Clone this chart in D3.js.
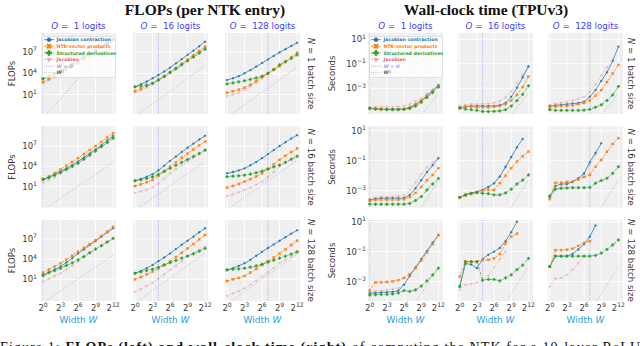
<!DOCTYPE html>
<html>
<head>
<meta charset="utf-8">
<script src="https://cdn.jsdelivr.net/npm/d3@7"></script>
<style>
body { margin: 0; background: #fff; }
svg { display: block; }
</style>
</head>
<body>
<script>
// ---- data (log10 of the measured value, panels row-major: N = 1, 16, 128 by O = 1, 16, 128) ----
var widths = [1, 2, 4, 8, 16, 32, 64, 128, 256, 512, 1024, 2048, 4096];
var batchSizes = [1, 16, 128];
var logitCounts = [1, 16, 128];
var xTicks = [1, 8, 64, 512, 4096];
var flopsTicks = [1e1, 1e4, 1e7];
var timeTicks = [1e-3, 1e-1, 1e1];

var flopsContraction = [
	[3.2,3.55,3.95,4.4,4.85,5.3,5.8,6.3,6.8,7.3,7.8,8.3,8.8],
	[2.1,2.45,2.85,3.3,3.75,4.25,4.8,5.4,6.0,6.6,7.2,7.8,8.45],
	[3.05,3.3,3.6,4.0,4.45,4.95,5.45,5.95,6.45,6.95,7.4,7.85,8.3],
	[2.0,2.35,2.8,3.25,3.7,4.2,4.7,5.3,5.9,6.5,7.1,7.8,8.5],
	[1.87,2.15,2.45,2.85,3.4,4.1,4.8,5.45,6.1,6.75,7.35,7.95,8.5],
	[2.97,3.15,3.4,3.7,4.15,4.65,5.2,5.8,6.4,7.0,7.55,8.1,8.6],
	[1.5,2.0,2.45,2.9,3.5,4.15,4.85,5.45,6.1,6.7,7.35,8.0,8.6],
	[1.9,2.25,2.65,3.13,3.7,4.25,4.85,5.5,6.15,6.75,7.35,8.0,8.6],
	[2.4,2.65,3.0,3.38,3.9,4.5,5.1,5.65,6.2,6.75,7.25,7.8,8.3]
];
var flopsNtkVp = [
	[2.8,3.2,3.6,4.05,4.5,5.0,5.5,6.0,6.5,7.05,7.6,8.15,8.7],
	[1.5,1.8,2.2,2.6,3.1,3.6,4.2,4.75,5.35,5.95,6.55,7.15,7.75],
	[1.27,1.45,1.7,2.0,2.4,2.9,3.45,4.0,4.5,5.0,5.6,6.25,6.9],
	[2.08,2.5,3.0,3.55,4.1,4.65,5.2,5.8,6.4,7.0,7.6,8.25,8.9],
	[1.1,1.35,1.65,2.0,2.6,3.3,3.95,4.6,5.25,5.9,6.5,7.1,7.65],
	[0.85,1.1,1.4,1.75,2.1,2.5,2.97,3.6,4.3,4.95,5.55,6.1,6.65],
	[1.98,2.45,2.9,3.38,3.95,4.5,5.1,5.7,6.25,6.85,7.45,8.1,8.8],
	[1.0,1.35,1.75,2.13,2.6,3.1,3.65,4.3,4.95,5.6,6.25,6.95,7.6],
	[0.75,1.0,1.2,1.5,2.0,2.55,3.13,3.7,4.25,4.85,5.45,6.1,6.75]
];
var flopsStructured = [
	[3.3,3.6,3.95,4.35,4.8,5.25,5.7,6.2,6.7,7.2,7.7,8.2,8.7],
	[2.1,2.2,2.35,2.6,3.05,3.55,4.1,4.65,5.2,5.75,6.3,6.85,7.4],
	[2.5,2.65,2.8,2.95,3.15,3.35,3.6,4.0,4.55,5.2,5.65,6.1,6.6],
	[2.1,2.35,2.7,3.1,3.55,4.0,4.45,5.05,5.65,6.25,6.9,7.5,8.15],
	[1.87,2.0,2.2,2.45,2.8,3.25,3.7,4.15,4.6,5.0,5.45,5.9,6.4],
	[2.47,2.55,2.6,2.7,2.85,3.05,3.3,3.6,3.9,4.2,4.6,5.05,5.5],
	[1.65,2.0,2.3,2.65,3.05,3.45,3.9,4.4,4.95,5.5,6.0,6.55,7.1],
	[1.9,2.1,2.3,2.5,2.8,3.15,3.47,3.8,4.15,4.47,4.8,5.2,5.6],
	[2.4,2.5,2.55,2.65,2.8,3.0,3.25,3.55,3.85,4.15,4.45,4.75,5.1]
];
var flopsJacobian = [
	[2.6,3.0,3.45,3.9,4.4,4.9,5.4,5.9,6.45,7.0,7.55,8.1,8.65],
	[1.3,1.6,2.0,2.45,2.95,3.5,4.05,4.6,5.2,5.8,6.4,7.0,7.6],
	[0.8,1.0,1.3,1.7,2.15,2.7,3.3,3.9,4.45,5.0,5.6,6.2,6.8],
	[1.6,1.95,2.4,2.9,3.4,3.9,4.45,5.05,5.65,6.25,6.9,7.5,8.15],
	[0.1,0.3,0.55,0.9,1.45,2.2,2.95,3.6,4.15,4.7,5.25,5.8,6.3],
	[-0.4,-0.15,0.15,0.5,0.85,1.3,1.75,2.4,3.15,3.95,4.5,4.95,5.4],
	[0.65,1.05,1.5,1.9,2.45,3.0,3.6,4.25,4.9,5.5,6.05,6.6,7.1],
	[-0.85,-0.45,0.0,0.5,1.1,1.75,2.4,3.05,3.7,4.37,4.85,5.35,5.85],
	[-1.5,-1.1,-0.75,-0.35,0.2,0.8,1.4,2.05,2.7,3.4,3.9,4.4,4.85]
];
// W^2 reference line: value at W = 1 and at W = 4096
var flopsWSquared = [
	[-2.4,8.8], [-2.1,5.1], [-2.2,4.85],
	[-2.4,4.55], [-2.5,4.75], [-2.4,4.9],
	[-2.5,4.6], [-2.55,4.9], [-2.7,4.7]
];

var timeContraction = [
	[-4.62,-4.66,-4.7,-4.7,-4.7,-4.7,-4.68,-4.55,-4.3,-4.0,-3.6,-3.2,-2.75],
	[-4.6,-4.5,-4.45,-4.45,-4.45,-4.45,-4.45,-4.38,-4.2,-3.7,-2.95,-2.1,-1.2],
	[-4.45,-4.4,-4.35,-4.3,-4.25,-4.2,-4.1,-3.7,-3.15,-2.4,-1.7,-0.75,0.4],
	[-3.62,-3.55,-3.5,-3.5,-3.5,-3.5,-3.48,-3.28,-2.84,-2.3,-1.75,-1.3,-0.84],
	[-3.45,-3.25,-3.15,-3.07,-2.95,-2.75,-2.5,-2.05,-1.4,-0.75,-0.1,0.45,null],
	[-3.45,-2.69,-2.55,-2.55,-2.4,-2.17,-1.84,-1.1,-0.47,0.16,null,null,null],
	[-3.77,-3.75,-3.72,-3.7,-3.68,-3.6,-3.2,-2.6,-2.05,-1.5,-0.95,-0.4,0.11],
	[-3.33,-1.8,-1.85,-2.1,-1.5,-1.2,-1.0,-0.75,-0.3,0.3,1.0,null,null],
	[-2.0,-1.3,-1.3,-1.3,-1.15,-0.85,-0.5,0.0,0.75,null,null,null,null]
];
var timeNtkVp = [
	[-4.62,-4.68,-4.7,-4.72,-4.72,-4.72,-4.7,-4.6,-4.35,-4.05,-3.65,-3.25,-2.8],
	[-4.55,-4.5,-4.5,-4.55,-4.55,-4.55,-4.5,-4.45,-4.3,-4.0,-3.55,-2.9,-2.05],
	[-4.55,-4.5,-4.45,-4.45,-4.4,-4.3,-4.2,-4.0,-3.6,-3.15,-2.5,-1.8,-1.1],
	[-3.67,-3.62,-3.6,-3.6,-3.6,-3.6,-3.58,-3.42,-3.15,-2.75,-2.3,-1.95,-1.5],
	[-3.45,-3.3,-3.2,-3.13,-2.97,-2.95,-2.95,-2.5,-2.0,-1.5,-1.05,-0.7,-0.4],
	[-3.52,-2.47,-2.47,-2.42,-2.38,-2.25,-2.08,-1.95,-1.4,-0.95,-0.4,0.12,0.5],
	[-3.6,-3.04,-3.04,-3.02,-2.98,-2.9,-2.75,-2.5,-2.1,-1.6,-1.05,-0.5,0.11],
	[-2.67,-1.67,-1.67,-1.65,-1.57,-1.55,-1.45,-1.15,-0.45,0.0,0.2,null,null],
	[-2.0,-0.9,-0.9,-0.87,-0.8,-0.62,-0.42,-0.3,null,null,null,null,null]
];
var timeStructured = [
	[-4.65,-4.7,-4.72,-4.75,-4.75,-4.75,-4.72,-4.65,-4.45,-4.15,-3.75,-3.35,-2.9],
	[-4.63,-4.7,-4.75,-4.8,-4.9,-4.9,-4.88,-4.85,-4.75,-4.45,-4.0,-3.5,-2.8],
	[-4.75,-4.8,-4.8,-4.8,-4.8,-4.8,-4.78,-4.72,-4.55,-4.35,-4.0,-3.55,-2.85],
	[-3.89,-3.9,-3.9,-3.9,-3.9,-3.9,-3.9,-3.85,-3.65,-3.4,-2.95,-2.55,-2.18],
	[-3.45,-3.3,-3.2,-3.13,-3.17,-3.2,-3.28,-3.28,-3.15,-2.9,-2.55,-2.3,-1.95],
	[-3.35,-2.9,-2.84,-2.82,-2.8,-2.8,-2.8,-2.78,-2.5,-2.33,-2.17,-1.84,-1.4],
	[-3.89,-3.87,-3.85,-3.85,-3.82,-3.75,-3.6,-3.65,-3.55,-3.3,-2.95,-2.55,-2.1],
	[-3.33,-1.67,-1.67,-1.67,-2.9,-2.85,-2.85,-2.95,-2.75,-2.55,-2.2,-1.9,-1.45],
	[-2.0,-1.3,-1.3,-1.3,-1.3,-1.3,-1.3,-1.3,-1.25,-1.1,-0.85,-0.55,-0.22]
];
var timeJacobian = [
	[-4.55,-4.5,-4.5,-4.5,-4.5,-4.5,-4.45,-4.3,-4.05,-3.8,-3.45,-3.1,-2.75],
	[-4.45,-4.35,-4.3,-4.3,-4.3,-4.25,-4.2,-4.05,-3.75,-3.25,-2.6,-1.9,-1.3],
	[-4.35,-4.25,-4.2,-4.1,-4.0,-3.85,-3.7,-3.3,-2.7,-1.95,-1.3,null,null],
	[-3.55,-3.45,-3.4,-3.4,-3.4,-3.35,-3.3,-2.95,-2.45,-1.9,-1.45,-1.1,-0.8],
	[-3.45,-3.25,-3.15,-3.07,-2.95,-2.8,-2.55,-2.1,-1.45,-0.8,-0.15,null,null],
	[-3.62,-2.95,-2.7,-2.6,-2.45,-2.25,-1.95,-1.3,-0.6,null,null,null,null],
	[-3.67,-3.62,-3.6,-3.55,-3.5,-3.44,-3.2,-2.65,-2.1,-1.55,-1.0,null,null],
	[-3.55,-3.2,-3.15,-3.05,-2.95,-2.6,-2.05,-1.5,-1.0,null,null,null,null],
	[-3.33,-2.8,-2.75,-2.55,-2.2,-1.77,-1.3,null,null,null,null,null,null]
];
var timeWSquared = [
	[-10.6,-3.4], [-10.6,-3.4], [-10.6,-3.4],
	[-9.5,-2.3], [-9.5,-2.3], [-9.5,-2.3],
	[-9.2,-2.0], [-9.2,-2.0], [-9.2,-2.0]
];

// ---- layout ----
var panelW = 75,
	panelH = 81,
	rowTop = [33, 126.5, 220];

var metrics = [
	{name: "flops", lefts: [41, 133, 225], xDomain: [Math.pow(2, -0.35), Math.pow(2, 12.5)],
	 yDomains: [[-1.73, 9.68], [-2.08, 9.88], [-2.23, 9.83]], ticks: flopsTicks, tickGap: 4,
	 ylabel: "FLOPs", ylabelX: 12, rowLabelX: 308, title: "FLOPs (per NTK entry)", titleX: 205,
	 series: [flopsContraction, flopsNtkVp, flopsStructured, flopsJacobian], w2: flopsWSquared},
	{name: "time", lefts: [368, 458, 548], xDomain: [Math.pow(2, -0.3), Math.pow(2, 12.8)],
	 yDomains: [[-5.1, 1.51], [-4.12, 1.28], [-4.29, 1.11]], ticks: timeTicks, tickGap: 2,
	 ylabel: "Seconds", ylabelX: 332, rowLabelX: 628, title: "Wall-clock time (TPUv3)", titleX: 486,
	 series: [timeContraction, timeNtkVp, timeStructured, timeJacobian], w2: timeWSquared}
];

var styles = [
	{label: "Jacobian contraction", color: "#1f77b4", dash: null, sym: d3.symbolCircle, size: 3, rot: 0, op: 1, width: 0.75},
	{label: "NTK-vector products", color: "#ff7f0e", dash: "2.4,1.2", sym: d3.symbolCross, size: 4, rot: 45, op: 1, width: 0.75},
	{label: "Structured derivatives", color: "#2ca02c", dash: "2.6,1,0.7,1", sym: d3.symbolCross, size: 4, rot: 0, op: 1, width: 0.75},
	{label: "Jacobian", color: "#e36a6c", dash: "2,1.2", sym: d3.symbolTriangle, size: 2, rot: 180, op: 0.45, width: 0.7}
];

var tickColor = "#3a3a3a",
	titleBlue = "#3c3cff",
	widthBlue = "#2a9fd6",
	lineOColor = "#9090ff",
	w2Color = "#a8a8a8";

var svg = d3.select("body")
	.append("svg")
	.attr("width", 640)
	.attr("height", 346)
	.attr("font-family", "DejaVu Sans, sans-serif");

var defs = svg.append("defs");

function sup(sel, base, exp, size) {
	sel.text("");
	sel.append("tspan").text(base);
	sel.append("tspan").attr("dy", -size * 0.42).attr("font-size", size * 0.72).text(exp);
}

function expText(v) {
	return v < 0 ? "\u2212" + Math.abs(v) : "" + v;
}

function drawPanel(m, r, c) {
	var p = r * 3 + c,
		left = m.lefts[c],
		top = rowTop[r];

	var x = d3.scaleLog().base(2).domain(m.xDomain).range([left, left + panelW]);
	var y = d3.scaleLog()
		.domain([Math.pow(10, m.yDomains[r][0]), Math.pow(10, m.yDomains[r][1])])
		.range([top + panelH, top]);

	var id = "clip-" + m.name + p;
	defs.append("clipPath").attr("id", id)
		.append("rect")
		.attr("x", left).attr("y", top)
		.attr("width", panelW).attr("height", panelH);

	var g = svg.append("g");

	// background and grid
	g.append("rect")
		.attr("x", left).attr("y", top)
		.attr("width", panelW).attr("height", panelH)
		.attr("fill", "#efefef");
	g.selectAll(".vgrid").data(xTicks).enter().append("line")
		.attr("x1", d => x(d)).attr("x2", d => x(d))
		.attr("y1", top).attr("y2", top + panelH)
		.attr("stroke", "#fff").attr("stroke-width", 0.9);
	g.selectAll(".hgrid").data(m.ticks).enter().append("line")
		.attr("x1", left).attr("x2", left + panelW)
		.attr("y1", d => y(d)).attr("y2", d => y(d))
		.attr("stroke", "#fff").attr("stroke-width", 0.9);

	var plot = g.append("g").attr("clip-path", "url(#" + id + ")");

	// W = O
	plot.append("line")
		.attr("x1", x(logitCounts[c])).attr("x2", x(logitCounts[c]))
		.attr("y1", top).attr("y2", top + panelH)
		.attr("stroke", lineOColor).attr("stroke-width", 0.7)
		.attr("stroke-dasharray", "1,1.2");

	// W^2
	var w2 = m.w2[p];
	plot.append("line")
		.attr("x1", x(widths[0])).attr("y1", y(Math.pow(10, w2[0])))
		.attr("x2", x(widths[widths.length - 1])).attr("y2", y(Math.pow(10, w2[1])))
		.attr("stroke", w2Color).attr("stroke-width", 0.7)
		.attr("stroke-dasharray", "0.9,1.3");

	var line = d3.line()
		.defined(d => d[1] != null)
		.x(d => x(d[0]))
		.y(d => y(Math.pow(10, d[1])));

	// Jacobian first so it sits underneath
	[3, 0, 1, 2].forEach(function(k) {
		var s = styles[k];
		var pts = widths.map((w, i) => [w, m.series[k][p][i]]);
		var sg = plot.append("g").attr("opacity", s.op);
		sg.append("path")
			.attr("d", line(pts))
			.attr("fill", "none")
			.attr("stroke", s.color)
			.attr("stroke-width", s.width)
			.attr("stroke-dasharray", s.dash);
		sg.selectAll(".pt").data(pts.filter(d => d[1] != null)).enter().append("path")
			.attr("d", d3.symbol().type(s.sym).size(s.size))
			.attr("transform", d => "translate(" + x(d[0]) + "," + y(Math.pow(10, d[1])) + ") rotate(" + s.rot + ")")
			.attr("fill", s.color)
			.attr("stroke", s.color)
			.attr("stroke-width", k == 0 ? 0.3 : 0.45);
	});

	// y tick labels on the first column
	if (c == 0) {
		g.selectAll(".ytick").data(m.ticks).enter().append("text")
			.attr("x", left - m.tickGap)
			.attr("y", d => y(d) + 3)
			.attr("text-anchor", "end")
			.attr("font-size", 8.5)
			.attr("fill", tickColor)
			.each(function(d) {
				sup(d3.select(this), "10", expText(Math.round(Math.log10(d))), 8.5);
			});
		g.append("text")
			.attr("transform", "translate(" + (m.ylabelX + 3) + "," + (top + panelH / 2) + ") rotate(-90)")
			.attr("text-anchor", "middle")
			.attr("font-size", 8.5)
			.attr("fill", tickColor)
			.text(m.ylabel);
	}

	// x tick labels and label on the bottom row
	if (r == 2) {
		g.selectAll(".xtick").data(xTicks).enter().append("text")
			.attr("x", d => x(d))
			.attr("y", top + panelH + 10)
			.attr("text-anchor", "middle")
			.attr("font-size", 8.5)
			.attr("fill", tickColor)
			.each(function(d) {
				sup(d3.select(this), "2", expText(Math.round(Math.log2(d))), 8.5);
			});
		var xl = g.append("text")
			.attr("x", left + panelW / 2)
			.attr("y", top + panelH + 22)
			.attr("text-anchor", "middle")
			.attr("font-size", 9)
			.attr("fill", widthBlue);
		xl.append("tspan").text("Width ");
		xl.append("tspan").attr("font-style", "italic").text("W");
	}

	// column title
	if (r == 0) {
		var ct = g.append("text")
			.attr("x", left + panelW / 2)
			.attr("y", top - 4)
			.attr("text-anchor", "middle")
			.attr("font-size", 8.7)
			.attr("fill", titleBlue)
			.attr("xml:space", "preserve");
		ct.append("tspan").attr("font-style", "italic").text("O");
		ct.append("tspan").text(" =  " + logitCounts[c] + " logits");
	}

	// row label
	if (c == 2) {
		var rl = g.append("text")
			.attr("transform", "translate(" + m.rowLabelX + "," + (top + panelH / 2) + ") rotate(90)")
			.attr("text-anchor", "middle")
			.attr("font-size", 8.7)
			.attr("fill", tickColor)
			.attr("xml:space", "preserve");
		rl.append("tspan").attr("font-style", "italic").text("N");
		rl.append("tspan").text(" = " + batchSizes[r] + " batch size");
	}

	if (p == 0) drawLegend(g, left + 1.5, top + 3.5);
}

function drawLegend(g, lx, ly) {
	var lg = g.append("g");
	lg.append("rect")
		.attr("x", lx).attr("y", ly)
		.attr("width", 73).attr("height", 41)
		.attr("rx", 1.2)
		.attr("fill", "#fff").attr("fill-opacity", 0.8)
		.attr("stroke", "#cccccc").attr("stroke-width", 0.5);
	var entries = styles.map(s => ({label: s.label, color: s.color, dash: s.dash, sym: s.sym, size: s.size * 4, rot: s.rot, op: s.op, text: s.color}));
	entries.push({label: "W = O", color: lineOColor, dash: "1,1.2", sym: null, op: 1, text: "#a0a0ff"});
	entries.push({label: "W\u00b2", color: w2Color, dash: "0.9,1.3", sym: null, op: 1, text: "#666"});
	entries.forEach(function(e, i) {
		var ey = ly + 3.2 + i * 6.6;
		var eg = lg.append("g").attr("opacity", e.op < 1 ? 0.6 : 1);
		eg.append("line")
			.attr("x1", lx + 1.5).attr("x2", lx + 11.5)
			.attr("y1", ey).attr("y2", ey)
			.attr("stroke", e.color).attr("stroke-width", 0.8)
			.attr("stroke-dasharray", e.dash);
		if (e.sym) {
			eg.append("path")
				.attr("d", d3.symbol().type(e.sym).size(e.size))
				.attr("transform", "translate(" + (lx + 6.5) + "," + ey + ") rotate(" + e.rot + ")")
				.attr("fill", e.color).attr("stroke", e.color).attr("stroke-width", 0.6);
		}
		lg.append("text")
			.attr("x", lx + 14)
			.attr("y", ey + 1.6)
			.attr("font-size", 4.7)
			.attr("font-weight", "bold")
			.attr("fill", e.text)
			.attr("font-style", i >= 4 ? "italic" : null)
			.text(e.label);
	});
}

metrics.forEach(function(m) {
	for (var r = 0; r < 3; r++)
		for (var c = 0; c < 3; c++)
			drawPanel(m, r, c);
	svg.append("text")
		.text(m.title)
		.attr("x", m.titleX)
		.attr("y", 15)
		.attr("text-anchor", "middle")
		.attr("font-family", "Liberation Serif, Times New Roman, serif")
		.attr("font-weight", "bold")
		.attr("font-size", 15.5)
		.attr("fill", "#111");
});

// caption, cut off by the bottom edge as in the source page
var cap = svg.append("text")
	.attr("x", 0)
	.attr("y", 352)
	.attr("font-family", "Liberation Serif, Times New Roman, serif")
	.attr("font-size", 14)
	.attr("fill", "#111")
	.attr("textLength", 640)
	.attr("lengthAdjust", "spacing");
cap.append("tspan").text("Figure 1: ");
cap.append("tspan").attr("font-weight", "bold").text("FLOPs (left) and wall-clock time (right)");
cap.append("tspan").text(" of computing the NTK for a 10-layer ReLU");
</script>
</body>
</html>
